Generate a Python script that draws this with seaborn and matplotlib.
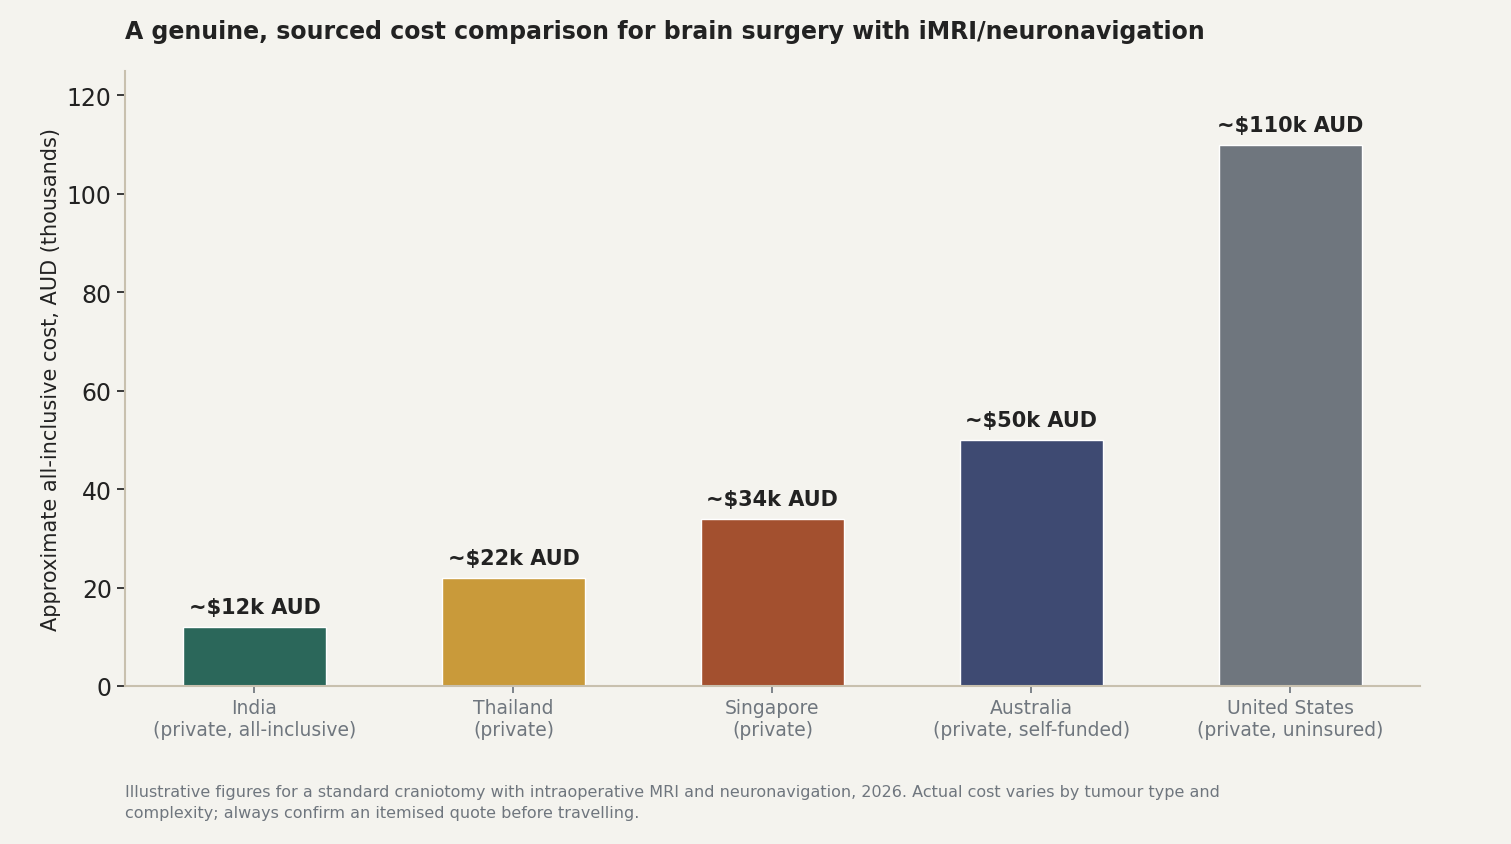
import matplotlib
matplotlib.use("Agg")
import matplotlib.pyplot as plt
import seaborn as sns
import pandas as pd

categories = ["India\n(private, all-inclusive)", "Thailand\n(private)", "Singapore\n(private)",
              "Australia\n(private, self-funded)", "United States\n(private, uninsured)"]
values = [12, 22, 34, 50, 110]
labels = ["~$12k AUD", "~$22k AUD", "~$34k AUD", "~$50k AUD", "~$110k AUD"]
colors = ["#2b675a", "#c99a3a", "#a3502f", "#3e4a72", "#6f767e"]

bg = "#f4f3ee"
sns.set_theme(style="ticks")
plt.rcParams["font.family"] = ["DejaVu Sans"]
fig = plt.figure(figsize=(15.11, 8.45), dpi=100, facecolor=bg)
ax = fig.add_axes([0.0827, 0.187, 0.857, 0.728])
ax.set_facecolor(bg)
df = pd.DataFrame({"cat": categories, "val": values})
sns.barplot(data=df, x="cat", y="val", hue="cat", palette=colors, width=0.55, legend=False, ax=ax, saturation=1)
for i, (v, l) in enumerate(zip(values, labels)):
    ax.text(i, v + 2, l, ha="center", va="bottom", fontsize=15, fontweight="bold", color="#222222")
ax.set_ylim(0, 125)
ax.set_xlim(-0.5, 4.5)
ax.set_xlabel("")
ax.set_ylabel("Approximate all-inclusive cost, AUD (thousands)", fontsize=15, color="#222222")
ax.tick_params(axis="y", labelsize=17, colors="#222222", length=6)
ax.tick_params(axis="x", labelsize=13.5, labelcolor="#6f767e", length=5, color="#6f767e")
for s in ["top", "right"]:
    ax.spines[s].set_visible(False)
for s in ["left", "bottom"]:
    ax.spines[s].set_color("#c8c0ae")
    ax.spines[s].set_linewidth(1.5)
ax.tick_params(axis="y", color="#222222")
fig.text(0.0827, 0.962, "A genuine, sourced cost comparison for brain surgery with iMRI/neuronavigation",
         fontsize=17, fontweight="bold", color="#222222", va="center")
fig.text(0.0827, 0.05, "Illustrative figures for a standard craniotomy with intraoperative MRI and neuronavigation, 2026. Actual cost varies by tumour type and\ncomplexity; always confirm an itemised quote before travelling.",
         fontsize=11.5, color="#6f767e", va="center", linespacing=1.5)
fig.savefig("out.png", dpi=100, facecolor=bg)
